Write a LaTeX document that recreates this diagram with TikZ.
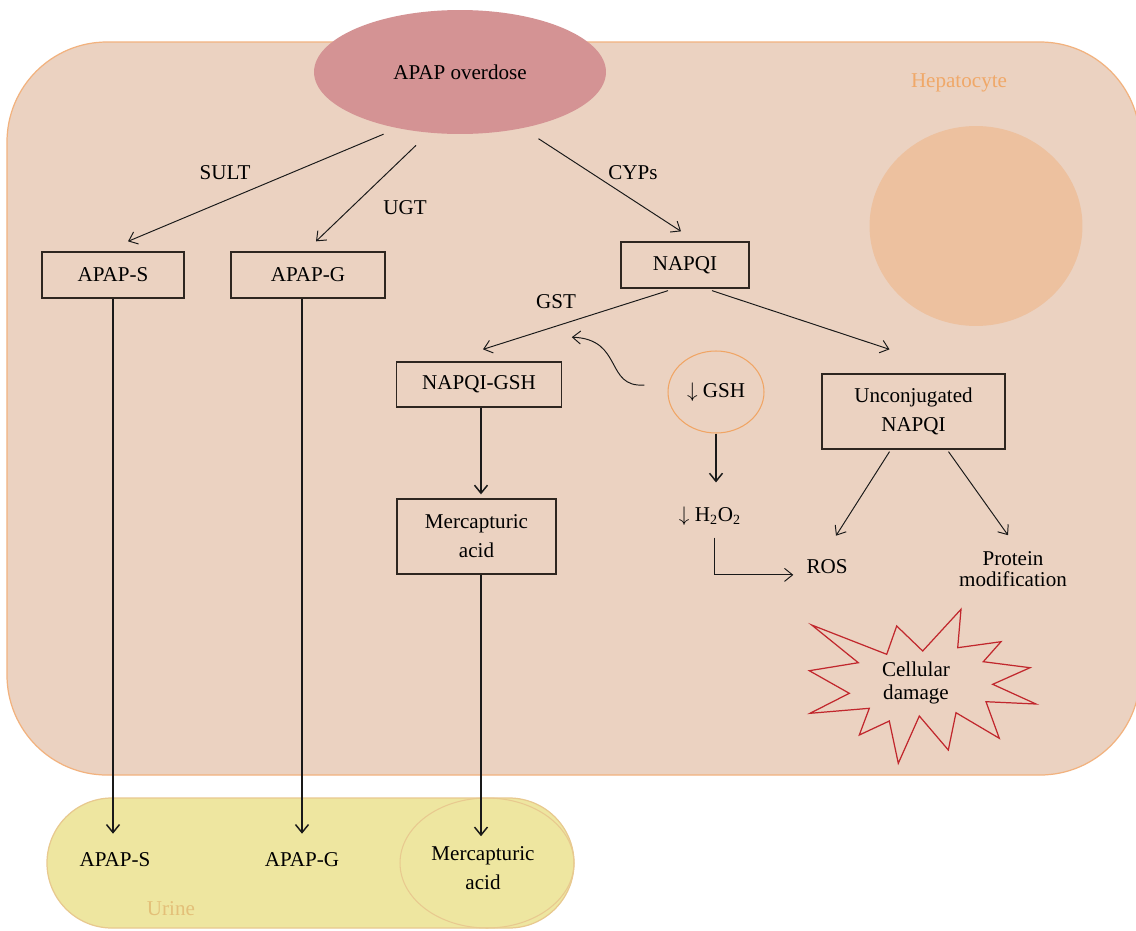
\documentclass[tikz,border=0pt]{standalone}
\usepackage{fontspec}
\setmainfont{Liberation Serif}
\usepackage{tikz}
\usetikzlibrary{arrows.meta,positioning,calc,shapes.geometric}
\definecolor{CellFill}{HTML}{EBD2C1}
\definecolor{CellLine}{HTML}{F2B27E}
\definecolor{Nucleus}{HTML}{EDC19F}
\definecolor{Overdose}{HTML}{D49394}
\definecolor{UrineFill}{HTML}{EEE6A0}
\definecolor{UrineLine}{HTML}{E8C98F}
\definecolor{UrineText}{HTML}{E3BF78}
\definecolor{HepText}{HTML}{F0A868}
\definecolor{GshLine}{HTML}{F0A565}
\definecolor{Damage}{HTML}{C1272D}
\definecolor{BoxLine}{HTML}{2E2620}

\begin{document}
\begin{tikzpicture}[x=0.02cm,y=-0.02cm,font=\fontsize{12}{16.5}\selectfont,
  box/.style={draw=BoxLine,line width=0.75pt,inner sep=0pt,align=center},
  arr/.style={-{Straight Barb[length=1.6mm,width=2.6mm]},line width=0.55pt,draw=black!90},
  varr/.style={arr,line width=0.85pt}]
\useasboundingbox (0,0) rectangle (1136,930);
\clip (0,0) rectangle (1136,930);
\fill[white] (0,0) rectangle (1136,930);
\draw[CellLine,fill=CellFill,line width=0.7pt,rounded corners=2cm] (7,42) rectangle (1140,775);
\fill[Nucleus] (976,226) ellipse [x radius=2.13cm,y radius=2cm];
\draw[UrineLine,fill=UrineFill,line width=0.7pt,rounded corners=1.3cm] (47,798) rectangle (574,928);
\draw[UrineLine,line width=0.6pt] (487,863) ellipse [x radius=1.74cm,y radius=1.3cm];

\node[ellipse,fill=Overdose,minimum width=5.84cm,minimum height=2.48cm,inner sep=0pt] (ov) at (460,72) {APAP overdose};
\node[HepText] (hep) at (959,83) {Hepatocyte};
\node[UrineText] (urine) at (171,909) {Urine};

\node[box,minimum width=2.84cm,minimum height=0.92cm] (aps) at (113,275) {APAP-S};
\node[box,minimum width=3.08cm,minimum height=0.92cm] (apg) at (308,275) {APAP-G};
\node[box,minimum width=2.56cm,minimum height=0.92cm] (napqi) at (685,265) {NAPQI};
\node[box,minimum width=3.3cm,minimum height=0.9cm] (ng) at (479,384.5) {NAPQI-GSH};
\node[box,minimum width=3.18cm,minimum height=1.5cm] (merc) at (476.5,536.5) {Mercapturic\\acid};
\node[box,minimum width=3.66cm,minimum height=1.5cm] (un) at (913.5,411.5) {Unconjugated\\NAPQI};
\node[ellipse,draw=GshLine,line width=0.6pt,minimum width=1.92cm,minimum height=1.64cm,inner sep=0pt] (gsh) at (716,392) {$\downarrow$ GSH};
\node (h2o2) at (710,516) {$\downarrow$ H\textsubscript{2}O\textsubscript{2}};
\node (ros) at (827,567) {ROS};
\node[align=center,font=\fontsize{12}{12}\selectfont] (prot) at (1013,569) {Protein\\modification};

\node (uaps) at (115,860) {APAP-S};
\node (uapg) at (302,860) {APAP-G};
\node[align=center] (umerc) at (483,868) {Mercapturic\\acid};

\node (sult) at (225,173) {SULT};
\node (ugt) at (405,208) {UGT};
\node (cyps) at (633,173) {CYPs};
\node (gst) at (556,302) {GST};

\draw[Damage,line width=0.7pt] (811.7,625) -- (886.7,654.3) -- (896.7,626) -- (922.7,651) -- (961,609.3)
  -- (957.7,647.7) -- (1001,641.7) -- (983.3,661.7) -- (1030,667.7) -- (992.7,684.3) -- (1036,704)
  -- (986,701.7) -- (999.3,738.3) -- (956,712.7) -- (948.3,750) -- (919.3,716) -- (898.3,763.3)
  -- (889.3,721) -- (859.3,735) -- (869.3,708.3) -- (810,713.3) -- (849.3,693.3) -- (809.3,670.7)
  -- (858.3,662.7) -- cycle;
\node[align=center,font=\fontsize{12}{13}\selectfont] (dmg) at (916,683) {Cellular\\damage};

\draw[arr,shorten <=0.3cm] (ov.222) -- ([shift={(15,-10)}]aps.north);
\draw[arr,shorten <=0.36cm] (ov.243) -- ([shift={(8,-10)}]apg.north);
\draw[arr,shorten <=0.38cm] (ov.318) -- ([shift={(-4,-10)}]napqi.north);
\draw[arr] ([shift={(-17,2)}]napqi.south) coordinate (gsta) -- ([shift={(4,-12)}]ng.north) coordinate (gstb);
\draw[arr] ([shift={(27,2)}]napqi.south) -- ([shift={(-24,-24)}]un.north);
\coordinate (gstmid) at ($(gsta)!0.52!(gstb)+(0,16)$);
\draw[arr] ($(gsh.west)+(-23,-7)$) .. controls +(-40,3) and +(52,2) .. (gstmid);

\draw[varr] ([xshift=0.04cm]ng.south) -- ($([xshift=0.04cm]ng.south |- merc.north)+(0,-4)$);
\draw[varr] ([xshift=0.04cm]ng.south |- merc.south) -- ($([xshift=0.04cm]ng.south |- umerc.north)+(0,-4)$);
\draw[varr] (aps.south) -- ($(aps.south |- uaps.north)+(0,-13)$);
\draw[varr] (uapg |- apg.south) -- ($(uapg.north)+(0,-13)$);
\draw[varr] (gsh.south) -- ($(gsh.south |- h2o2.north)+(0,-18)$);
\draw[arr] ($(h2o2.south)+(4,6)$) |- ($(ros.base west)+(-7,1)$);
\draw[arr] ([shift={(-24,2)}]un.south) -- ($(ros.north)+(9,-18)$);
\draw[arr] ([shift={(35,2)}]un.south) -- ($(prot.north)+(-5,-10)$);
\end{tikzpicture}
\end{document}
